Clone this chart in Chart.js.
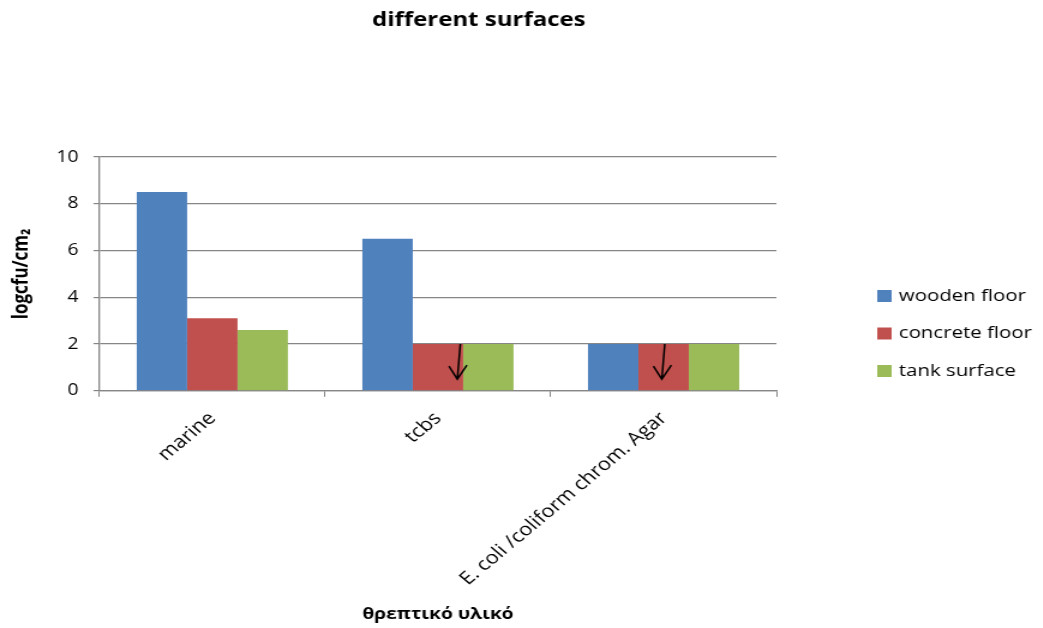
<!DOCTYPE html>
<html>
<head>
<meta charset="utf-8">
<script src="https://cdn.jsdelivr.net/npm/chart.js@4/dist/chart.umd.min.js"></script>
<style>
  html, body { margin: 0; padding: 0; background: #fff; overflow: hidden; }
  /* the original picture is stretched sideways, so the chart is drawn narrower and widened */
  #wrap { width: 869px; height: 628px; transform: scaleX(1.2); transform-origin: 0 0; }
</style>
</head>
<body>
<div id="wrap"><canvas id="chart" width="869" height="628"></canvas></div>
<script>
const chartTitle = "different surfaces";
const categories = ["marine", "tcbs", "E. coli /coliform chrom. Agar"];
const seriesNames = ["wooden floor", "concrete floor", "tank surface"];
const woodenFloor = [8.5, 6.5, 2];
const concreteFloor = [3.1, 2, 2];
const tankSurface = [2.6, 2, 2];
const yTicks = [0, 2, 4, 6, 8, 10];
// categories where the concrete floor value is marked with a down arrow (below limit)
const arrowCategories = [1, 2];

const colors = ["#4F81BD", "#C0504D", "#9BBB59"];
const FONT = "'Open Sans', sans-serif";
const axisGray = "#868686";

// title, legend and down arrows drawn by hand
const extras = {
  id: "extras",
  afterDraw(chart) {
    const ctx = chart.ctx;
    ctx.save();

    ctx.fillStyle = "#000";
    ctx.font = "bold 20px " + FONT;
    ctx.textAlign = "center";
    ctx.textBaseline = "middle";
    ctx.fillText(chartTitle, 399, 20);

    ctx.font = "17px " + FONT;
    ctx.textAlign = "left";
    chart.data.datasets.forEach((ds, i) => {
      const y = 296 + i * 37.5;
      ctx.fillStyle = ds.backgroundColor;
      ctx.fillRect(731, y - 6, 12, 12);
      ctx.fillStyle = "#000";
      ctx.fillText(ds.label, 749, y);
    });

    const meta = chart.getDatasetMeta(1);
    const yScale = chart.scales.y;
    ctx.strokeStyle = "#000";
    ctx.lineWidth = 1.5;
    arrowCategories.forEach((idx, k) => {
      const bar = meta.data[idx];
      const shift = k === 0 ? bar.width * 0.42 : 0;
      const x0 = bar.x + shift + 1;
      const x1 = bar.x + shift - 1.5;
      const y0 = bar.y;
      const y1 = yScale.getPixelForValue(0.5);
      ctx.beginPath();
      ctx.moveTo(x0, y0);
      ctx.lineTo(x1, y1);
      ctx.moveTo(x1 - 7, y1 - 13);
      ctx.lineTo(x1, y1);
      ctx.lineTo(x1 + 8, y1 - 14);
      ctx.stroke();
    });
    ctx.restore();
  }
};

new Chart(document.getElementById("chart"), {
  type: "bar",
  data: {
    labels: categories,
    datasets: [
      { label: seriesNames[0], data: woodenFloor, backgroundColor: colors[0] },
      { label: seriesNames[1], data: concreteFloor, backgroundColor: colors[1] },
      { label: seriesNames[2], data: tankSurface, backgroundColor: colors[2] }
    ]
  },
  options: {
    responsive: false,
    animation: false,
    layout: { padding: { left: 8.2, right: 222, top: 157, bottom: 4 } },
    datasets: { bar: { categoryPercentage: 0.67, barPercentage: 1.0 } },
    plugins: {
      legend: { display: false },
      title: { display: false },
      tooltip: { enabled: false }
    },
    scales: {
      x: {
        grid: { drawOnChartArea: false, drawTicks: true, tickLength: 6, color: axisGray },
        border: { color: axisGray, width: 1.3 },
        ticks: {
          color: "#000",
          font: { family: FONT, size: 18 },
          minRotation: 45,
          maxRotation: 45,
          padding: 11
        },
        title: {
          display: true,
          text: "θρεπτικό υλικό",
          color: "#000",
          font: { family: FONT, size: 16, weight: "bold" },
          padding: { top: 4, bottom: 0 }
        }
      },
      y: {
        min: 0,
        max: 10,
        afterBuildTicks(axis) { axis.ticks = yTicks.map(v => ({ value: v })); },
        grid: { color: axisGray, lineWidth: 1.2, drawTicks: true, tickLength: 5 },
        border: { color: axisGray, width: 1.3 },
        ticks: { color: "#000", font: { family: FONT, size: 16 }, padding: 12.5 },
        title: {
          display: true,
          text: "logcfu/cm₂",
          color: "#000",
          font: { family: FONT, size: 17, weight: "bold" },
          padding: { top: 0, bottom: 6 }
        }
      }
    }
  },
  plugins: [extras]
});
</script>
</body>
</html>
